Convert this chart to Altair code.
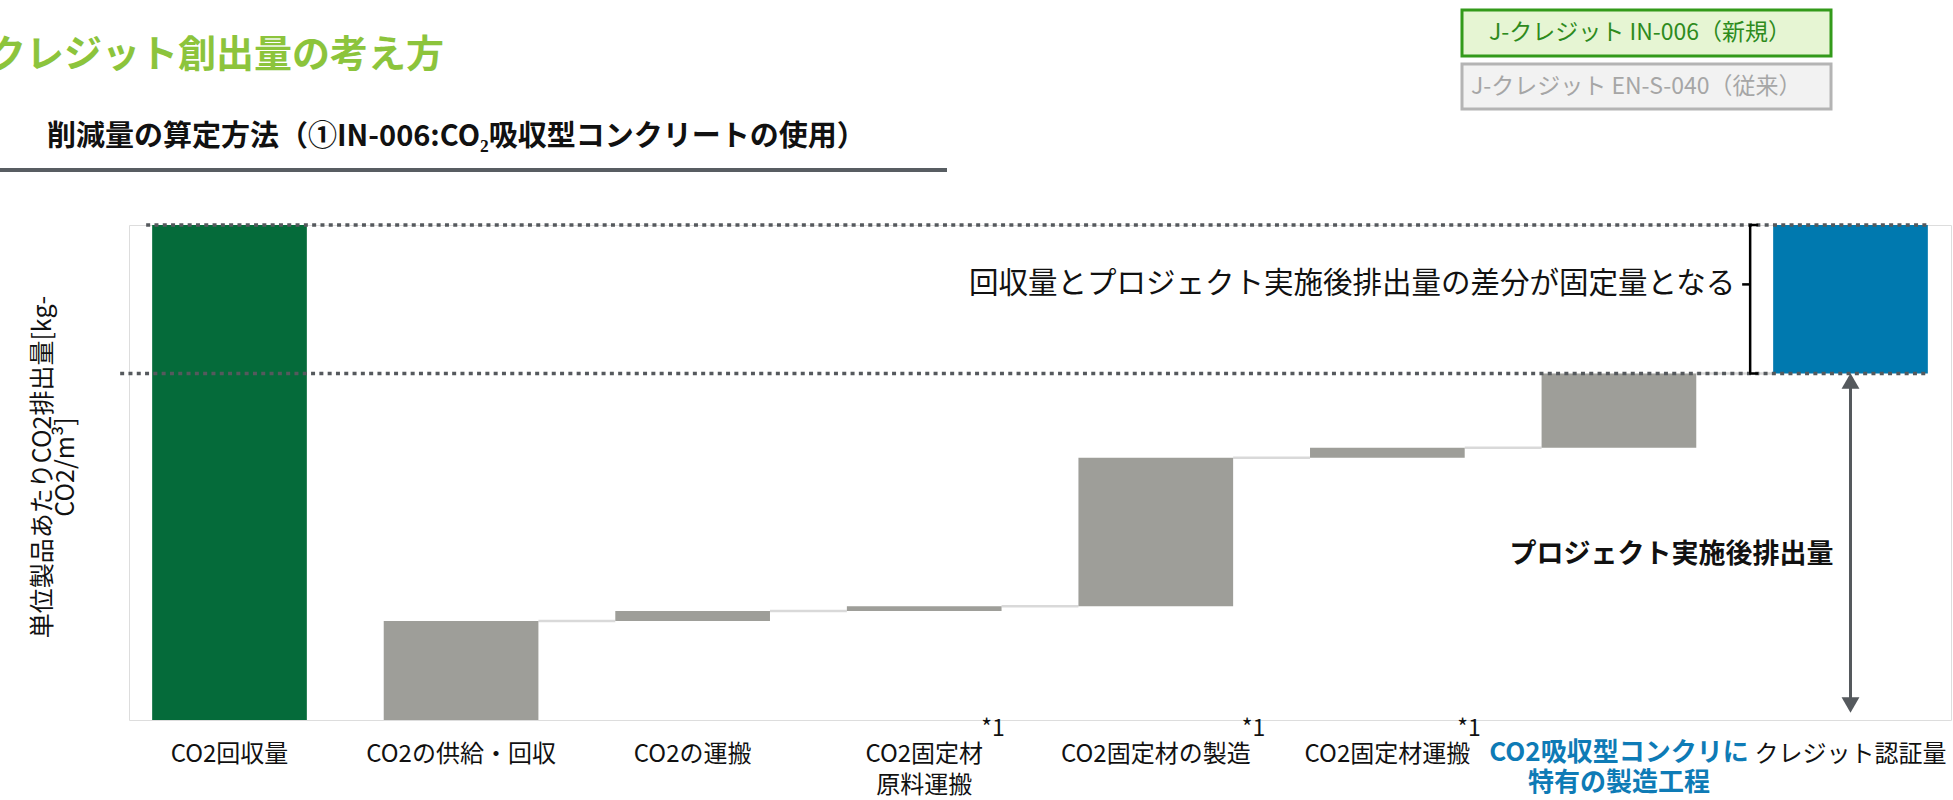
import altair as alt
import pandas as pd

# ---------------- data ----------------
labels = [
    "CO2回収量",
    "CO2の供給・回収",
    "CO2の運搬",
    "CO2固定材\n原料運搬",
    "CO2固定材の製造",
    "CO2固定材運搬",
    "CO2吸収型コンクリに\n特有の製造工程",
    "クレジット認証量",
]
bar_bottom = [0, 0, 20, 22, 23, 53, 55, 70]
bar_top = [100, 20, 22, 23, 53, 55, 70, 100]
kind = ["回収量", "排出", "排出", "排出", "排出", "排出", "排出", "認証量"]
footnote = ["", "", "", "*1", "*1", "*1", "", ""]
special_label = labels[6]

brace_mid = [88]
arrow_bottom = [1.5]

title_text = ["クレジット創出量の考え方"]
subtitle_text = ["削減量の算定方法（①IN-006:CO₂吸収型コンクリートの使用）"]
legend_new = ["J-クレジット IN-006（新規）"]
legend_old = ["J-クレジット EN-S-040（従来）"]
ytitle_lines = [["単位製品あたりCO2排出量[kg-", "CO2/m³]"]]
brace_text = ["回収量とプロジェクト実施後排出量の差分が固定量となる"]
project_text = ["プロジェクト実施後排出量"]

# ---------------- layout ----------------
LEFT = 129
W, H = 1822, 495
FONT = "Noto Sans CJK JP"
footnote_dx = {labels[3]: 57, labels[4]: 86, labels[5]: 70}

bars_df = pd.DataFrame({"cat": labels, "bottom": bar_bottom, "top": bar_top,
                        "kind": kind, "note": footnote})
conn_df = pd.DataFrame({"cat": labels[1:7], "next": labels[2:8], "level": bar_top[1:7]})
line_df = pd.DataFrame({"start": [labels[0]], "end": [labels[-1]],
                        "upper": [bar_top[0]], "lower": [bar_bottom[-1]]})
ann_df = pd.DataFrame({"cat": [labels[-1]], "top": [bar_top[-1]], "bottom": [bar_bottom[-1]],
                       "mid": brace_mid, "abottom": arrow_bottom})

xs = alt.Scale(domain=labels, paddingInner=0.332, paddingOuter=0.1)
ys = alt.Scale(domain=[0, 100], nice=False, zero=True)


def X(field="cat", bp=None):
    if bp is None:
        return alt.X(f"{field}:N", scale=xs, sort=None, axis=None)
    return alt.X(f"{field}:N", scale=xs, sort=None, axis=None, bandPosition=bp)


def Y(field):
    return alt.Y(f"{field}:Q", scale=ys, axis=None)


connectors = alt.Chart(conn_df).mark_rule(color="#d9d9d9", strokeWidth=2.5).encode(
    x=X("cat", 1), x2=alt.X2("next:N", bandPosition=0), y=Y("level"))

bars = alt.Chart(bars_df).mark_bar().encode(
    x=alt.X("cat:N", scale=xs, sort=None,
            axis=alt.Axis(labels=False, ticks=False, title=None, grid=False,
                          domainColor="#d9d9d9", domainWidth=3)),
    y=Y("bottom"), y2="top:Q",
    color=alt.Color("kind:N", legend=None,
                    scale=alt.Scale(domain=["回収量", "排出", "認証量"],
                                    range=["#056b3a", "#9e9e99", "#0079af"])))

DOT = [4, 4.3]
upper_line = alt.Chart(line_df).mark_rule(
    color="#55595d", strokeWidth=3.5, strokeDash=DOT, xOffset=-6).encode(
    x=X("start", 0), x2=alt.X2("end:N", bandPosition=1), y=Y("upper"))
lower_line = alt.Chart(line_df).mark_rule(
    color="#55595d", strokeWidth=3.5, strokeDash=DOT, xOffset=-32).encode(
    x=X("start", 0), x2=alt.X2("end:N", bandPosition=1), y=Y("lower"))

# brace
brace_v = alt.Chart(ann_df).mark_rule(color="black", strokeWidth=2.5, xOffset=-23).encode(
    x=X("cat", 0), y=Y("top"), y2="bottom:Q")
brace_t = alt.Chart(ann_df).mark_rule(color="black", strokeWidth=2.5, xOffset=-24, x2Offset=-15).encode(
    x=X("cat", 0), x2=alt.X2("cat:N", bandPosition=0), y=Y("top"))
brace_b = alt.Chart(ann_df).mark_rule(color="black", strokeWidth=2.5, xOffset=-24, x2Offset=-15).encode(
    x=X("cat", 0), x2=alt.X2("cat:N", bandPosition=0), y=Y("bottom"))
brace_m = alt.Chart(ann_df).mark_rule(color="black", strokeWidth=2.5, xOffset=-31, x2Offset=-23).encode(
    x=X("cat", 0), x2=alt.X2("cat:N", bandPosition=0), y=Y("mid"))

# arrow
arrow = alt.Chart(ann_df).mark_rule(color="#55595d", strokeWidth=3, yOffset=8, y2Offset=-8).encode(
    x=X("cat"), y=Y("bottom"), y2="abottom:Q")
head_up = alt.Chart(ann_df).mark_point(shape="triangle-up", filled=True, size=320, opacity=1,
                                        color="#55595d", yOffset=7.5).encode(x=X("cat"), y=Y("bottom"))
head_dn = alt.Chart(ann_df).mark_point(shape="triangle-down", filled=True, size=320, opacity=1,
                                        color="#55595d", yOffset=-7.5).encode(x=X("cat"), y=Y("abottom"))

brace_label = alt.Chart(pd.DataFrame({"cat": [labels[-1]], "mid": brace_mid, "t": brace_text})).mark_text(
    font=FONT, fontSize=29.5, align="right", baseline="middle", color="#111111", xOffset=-38).encode(
    x=X("cat", 0), y=Y("mid"), text="t:N")
project_label = alt.Chart(pd.DataFrame({"cat": [labels[-1]], "t": project_text})).mark_text(
    font=FONT, fontSize=27, fontWeight="bold", align="right", baseline="middle", color="#111111",
    xOffset=-17).encode(x=X("cat"), y=alt.value(330), text="t:N")

# category labels
cat_labels = alt.Chart(bars_df).transform_filter(
    alt.datum.cat != special_label).mark_text(
    font=FONT, fontSize=24, baseline="top", align="center", lineBreak="\n", lineHeight=31,
    color="#111111").encode(x=X("cat"), y=alt.value(H + 23), text="cat:N")
cat_special = alt.Chart(bars_df).transform_filter(
    alt.datum.cat == special_label).mark_text(
    font=FONT, fontSize=26, fontWeight="bold", baseline="top", align="center", lineBreak="\n",
    lineHeight=30, color="#0e7bb6").encode(x=X("cat"), y=alt.value(H + 20), text="cat:N")

notes = []
for cat, note in zip(labels, footnote):
    if note:
        notes.append(alt.Chart(pd.DataFrame({"cat": [cat], "n": [note]})).mark_text(
            font=FONT, fontSize=23, align="left", baseline="middle", color="#111111",
            dx=footnote_dx[cat]).encode(x=X("cat"), y=alt.value(H + 9), text="n:N"))

# header texts
title = alt.Chart(pd.DataFrame({"t": title_text})).mark_text(
    font=FONT, fontSize=38, fontWeight="bold", align="left", baseline="middle", color="#8cc43c").encode(
    x=alt.value(-141), y=alt.value(-169), text="t:N")
subtitle = alt.Chart(pd.DataFrame({"t": subtitle_text})).mark_text(
    font=FONT, fontSize=29, fontWeight="bold", align="left", baseline="middle", color="#111111").encode(
    x=alt.value(-82), y=alt.value(-88), text="t:N")
underline = alt.Chart(pd.DataFrame({"t": [0]})).mark_rule(color="#585d62", strokeWidth=4).encode(
    x=alt.value(-LEFT), x2=alt.value(947 - LEFT), y=alt.value(-55))

box_new = alt.Chart(pd.DataFrame({"t": [0]})).mark_rect(
    fill="#e6f5d3", stroke="#339a1a", strokeWidth=3).encode(
    x=alt.value(1333), x2=alt.value(1702), y=alt.value(-215), y2=alt.value(-169))
box_old = alt.Chart(pd.DataFrame({"t": [0]})).mark_rect(
    fill="#f2f2f2", stroke="#b4b4b4", strokeWidth=3).encode(
    x=alt.value(1333), x2=alt.value(1702), y=alt.value(-161), y2=alt.value(-116))
txt_new = alt.Chart(pd.DataFrame({"t": legend_new})).mark_text(
    font=FONT, fontSize=23, align="left", baseline="middle", color="#2e8b1d").encode(
    x=alt.value(1360), y=alt.value(-192), text="t:N")
txt_old = alt.Chart(pd.DataFrame({"t": legend_old})).mark_text(
    font=FONT, fontSize=23, align="left", baseline="middle", color="#a6a6a6").encode(
    x=alt.value(1342), y=alt.value(-138), text="t:N")

ytitle = alt.Chart(pd.DataFrame({"t": ytitle_lines})).mark_text(
    font=FONT, fontSize=25, angle=270, align="center", baseline="middle", lineHeight=23,
    color="#111111").encode(x=alt.value(43 - LEFT), y=alt.value(242), text="t:N")

chart = alt.layer(
    connectors, bars, upper_line, lower_line,
    brace_v, brace_t, brace_b, brace_m,
    arrow, head_up, head_dn,
    brace_label, project_label,
    cat_labels, cat_special, *notes,
    title, subtitle, underline, box_new, box_old, txt_new, txt_old, ytitle,
).properties(
    width=W, height=H,
    autosize=alt.AutoSizeParams(type="none"),
    padding={"left": LEFT, "top": 225, "right": 2, "bottom": 80},
).configure_view(stroke=None).configure(font=FONT)

chart.save("out.html", embed_options={"renderer": "svg", "actions": False})
